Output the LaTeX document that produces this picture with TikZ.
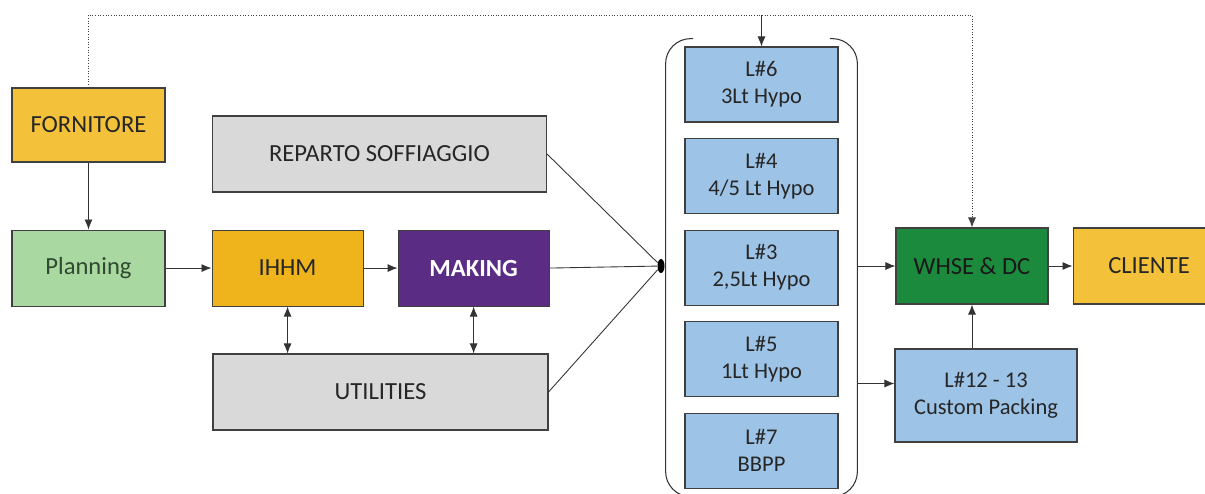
\documentclass[tikz,border=0pt]{standalone}
\usepackage{fontspec}
\setmainfont{Carlito}
\usepackage{xcolor}
\usepackage{tikz}
\usetikzlibrary{shapes.geometric, arrows.meta, positioning, fit}
\definecolor{fornyellow}{HTML}{F4C23A}
\definecolor{ihhmorange}{HTML}{EFB31B}
\definecolor{planggreen}{HTML}{A9D8A0}
\definecolor{plangtext}{HTML}{2F4A30}
\definecolor{makpurple}{HTML}{5B2C83}
\definecolor{whsegreen}{HTML}{1C8A3C}
\definecolor{deptgray}{HTML}{D9D9D9}
\definecolor{lineblue}{HTML}{9DC3E6}
\tikzset{
    box/.style={rectangle, draw=black!75, line width=0.6pt, minimum width=3.06cm, minimum height=1.5cm, align=center, text=black!85, font=\fontsize{14}{17}\selectfont},
    dept/.style={box, fill=deptgray, minimum width=6.68cm, minimum height=1.52cm},
    linebox/.style={box, fill=lineblue, font=\fontsize{12.8}{15.4}\selectfont},
    arrow/.style={-{Latex[length=2mm, width=1.6mm]}, black!80, line width=0.5pt},
    dblarrow/.style={{Latex[length=2mm, width=1.6mm]}-{Latex[length=2mm, width=1.6mm]}, black!80, line width=0.5pt},
    dotline/.style={densely dotted, black!75, line width=0.5pt}
}
\begin{document}
\begin{tikzpicture}[node distance=0.31cm]
  \clip (0,0) rectangle (24.1,-9.86);
  \node[box, fill=fornyellow, minimum height=1.48cm] (forn) at (1.77,-2.5) {FORNITORE};
  \node[box, fill=planggreen, minimum height=1.52cm, text=plangtext, below=1.34cm of forn] (plan) {Planning};
  \node[box, fill=ihhmorange, minimum width=3.02cm, minimum height=1.52cm, right=0.92cm of plan] (ihhm) {IHHM};
  \node[box, fill=makpurple, minimum width=3.02cm, minimum height=1.52cm, text=white, font=\fontsize{14}{17}\selectfont\bfseries, right=0.68cm of ihhm] (making) {MAKING};
  \node[dept] (rep) at (7.59,-3.08) {REPARTO SOFFIAGGIO};
  \node[dept, minimum width=6.7cm] (util) at (7.61,-7.84) {UTILITIES};
  \node[linebox] (l6) at (15.23,-1.69) {L\#6\\3Lt Hypo};
  \node[linebox, below=of l6] (l4) {L\#4\\4/5 Lt Hypo};
  \node[linebox, below=of l4] (l3) {L\#3\\2,5Lt Hypo};
  \node[linebox, below=of l3] (l5) {L\#5\\1Lt Hypo};
  \node[linebox, below=of l5] (l7) {L\#7\\BBPP};
  \node[fit=(l6)(l7), inner xsep=0.37cm, inner ysep=0.15cm] (lines) {};
  \node[ellipse, fill=black, minimum width=0.14cm, minimum height=0.28cm, inner sep=0pt] (hub) at (13.22,-5.32) {};
  \node[box, fill=whsegreen, minimum width=3.04cm, minimum height=1.52cm, text=black!90] (whse) at (19.44,-5.32) {WHSE \& DC};
  \node[box, fill=fornyellow, minimum width=3.04cm, minimum height=1.52cm, right=0.48cm of whse] (cliente) {CLIENTE};
  \node[linebox, minimum width=3.64cm, minimum height=1.86cm] (custom) at (19.72,-7.91) {L\#12 - 13\\Custom Packing};
  \coordinate (topy) at (0,-0.3);
  \coordinate (cp) at ([yshift=0.24cm]custom.west);
  \draw[black!80, line width=0.6pt, rounded corners=0.5cm] ([xshift=0.55cm]lines.north west) -- (lines.north west) -- (lines.south west) -- (lines.south east) -- (lines.north east) -- ([xshift=-0.55cm]lines.north east);
  \draw[arrow] (forn) -- (plan);
  \draw[arrow] (plan) -- (ihhm);
  \draw[arrow] (ihhm) -- (making);
  \draw[dblarrow] (ihhm.south) -- (ihhm.south |- util.north);
  \draw[dblarrow] (making.south) -- (making.south |- util.north);
  \draw[black!80, line width=0.5pt] (rep.east) -- (hub);
  \draw[black!80, line width=0.5pt] (making.east) -- (hub);
  \draw[black!80, line width=0.5pt] (util.east) -- (hub);
  \draw[arrow] (lines.east |- whse.west) -- (whse.west);
  \draw[arrow] (lines.east |- cp) -- (cp);
  \draw[arrow] (whse.south |- custom.north) -- (whse.south);
  \draw[arrow] (whse) -- (cliente);
  \draw[dotline, -{Latex[length=2mm, width=1.6mm]}] (forn.north) -- (forn.north |- topy) -| (whse.north);
  \draw[arrow] (l6.north |- topy) -- (l6.north);
\end{tikzpicture}
\end{document}
